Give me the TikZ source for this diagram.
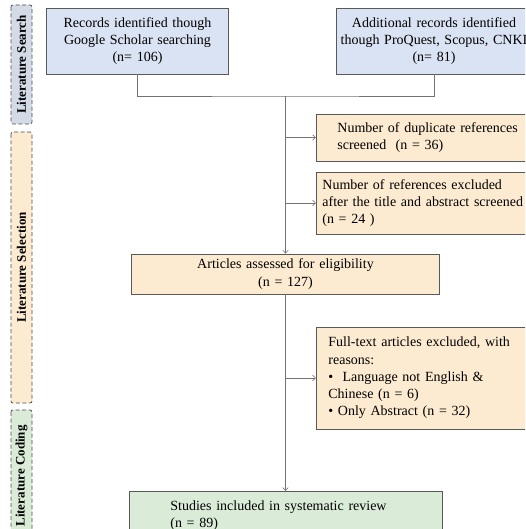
\documentclass[tikz,border=0pt]{standalone}
\usepackage{fontspec}
\setmainfont{Liberation Serif}
\usetikzlibrary{arrows.meta}
\definecolor{recblue}{HTML}{DAE3F3}
\definecolor{selorange}{HTML}{FCEBD1}
\definecolor{codegreen}{HTML}{DAECD8}
\definecolor{searchgray}{HTML}{D3DCE6}
\tikzset{>={Straight Barb[length=3pt,width=5.5pt]}}
\tikzset{
  phase/.style={draw=black!70, dashed, dash pattern=on 4pt off 2.5pt, line width=0.7pt,
    rounded corners=2pt, rotate=90, minimum height=21pt, inner sep=0pt,
    font=\fontsize{13}{14}\selectfont\bfseries},
  flowbox/.style={draw=black!65, line width=0.8pt, inner ysep=2pt,
    font=\fontsize{14}{17.2}\selectfont},
  recbox/.style={flowbox, fill=recblue, align=center},
  exclbox/.style={flowbox, fill=selorange, align=left, anchor=west},
  link/.style={draw=black!55, line width=0.6pt}
}
\begin{document}
\begin{tikzpicture}[x=1pt,y=-1pt]
  \clip (0,0) rectangle (525,529);
  \fill[white] (0,0) rectangle (525,529);
  % stages
  \node[phase, fill=searchgray, minimum width=119pt] (search) at (21.5,64.5) {Literature Search};
  \node[phase, fill=selorange, minimum width=271pt] (select) at (21.5,267.5) {Literature Selection};
  \node[phase, fill=codegreen, minimum width=132pt] (coding) at (21.5,476) {Literature Coding};
  % records
  \node[recbox, text width=175pt, minimum height=66pt] (rec1) at (137.5,41)
    {Records identified though\\Google Scholar searching\\(n= 106)};
  \node[recbox, text width=188pt, minimum height=66pt] (rec2) at (434,41)
    {Additional records identified\\though ProQuest, Scopus, CNKI\\(n= 81)};
  \node[exclbox, text width=190pt, inner xsep=21pt, minimum height=47pt] (dup) at (316,137.5)
    {Number of duplicate references\\screened\ \ (n = 36)};
  \node[exclbox, text width=208pt, inner xsep=6pt, minimum height=62pt] (title) at (316,203)
    {Number of references excluded\\after the title and abstract screened\\(n = 24 )};
  \node[flowbox, fill=selorange, align=center, text width=301pt, minimum height=40pt] (elig) at (285.5,274)
    {Articles assessed for eligibility\\(n = 127)};
  \node[exclbox, text width=200pt, inner xsep=12pt, minimum height=102pt] (full) at (316,378)
    {Full-text articles excluded, with\\reasons:\\\textbullet\ \ Language not English \&\\Chinese (n = 6)\\\textbullet\ Only Abstract (n = 32)};
  \node[flowbox, fill=codegreen, align=left, anchor=north west, text width=231pt,
    inner xsep=41pt, minimum height=48pt] (incl) at (129,491)
    {Studies included in systematic review\\(n = 89)};
  % connectors
  \coordinate (join) at (285.5,96);
  \draw[link] (rec1.south) |- (join) -| (rec2.south);
  \draw[link,->] (join) -- (elig.north);
  \draw[link,->] (join |- dup.west) -- (dup.west);
  \draw[link,->] (join |- title.west) -- (title.west);
  \draw[link,->] (elig.south) -- (elig.south |- incl.north);
  \draw[link,->] (elig.south |- full.west) -- (full.west);
\end{tikzpicture}
\end{document}
